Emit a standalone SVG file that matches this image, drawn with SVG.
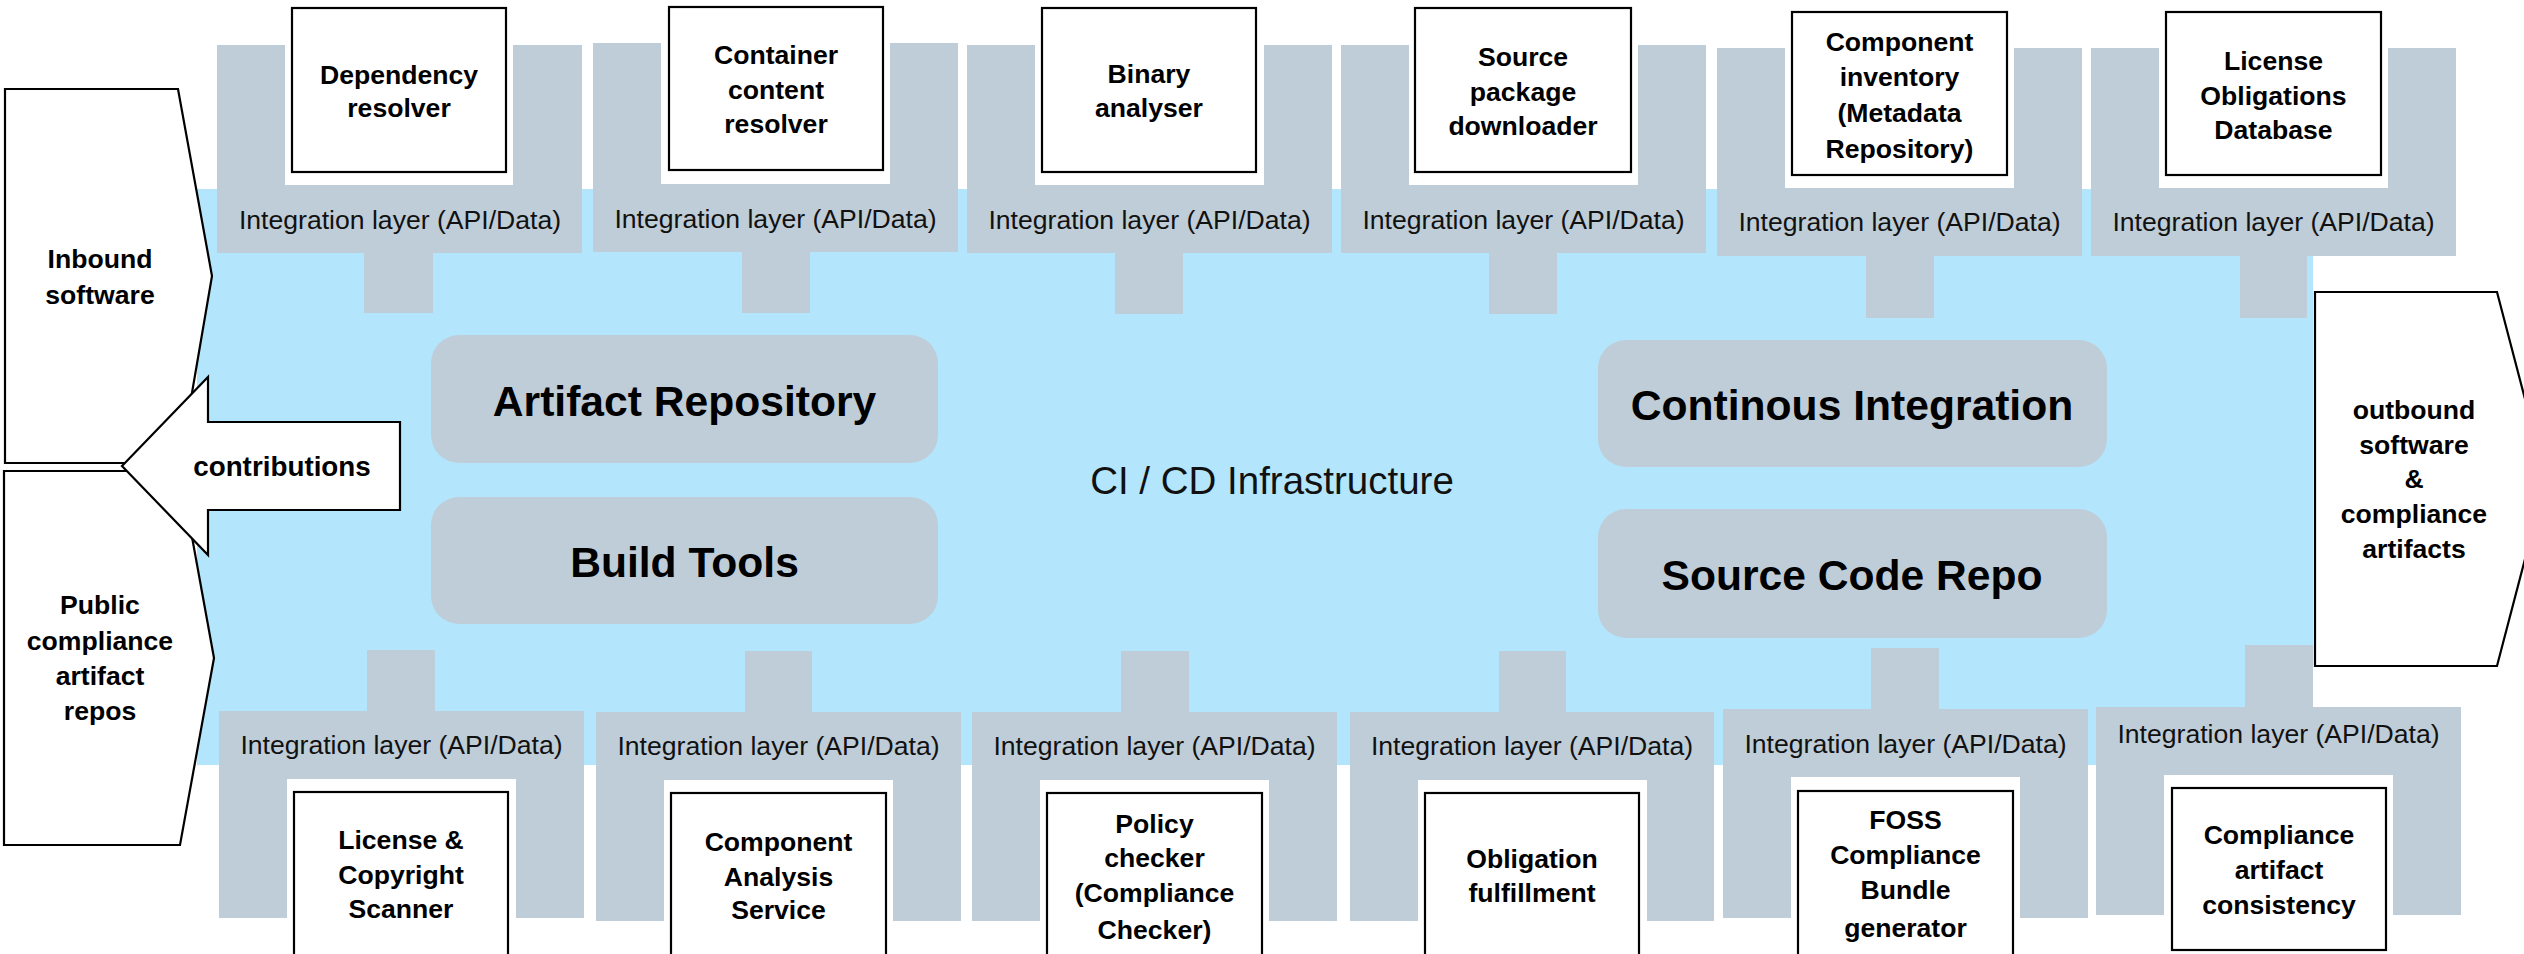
<svg xmlns="http://www.w3.org/2000/svg" width="2524" height="954" viewBox="0 0 2524 954">
<style>
.bg{fill:#B3E6FC}
.pan{fill:#BFCDD8}
.core{fill:#BFCDD8}
.box{fill:#fff;stroke:#000;stroke-width:2.2}
.sh{fill:#fff;stroke:#000;stroke-width:2.2;stroke-linejoin:miter}
.il{font-family:"Liberation Sans",Arial,sans-serif;font-size:26.6px;fill:#111;text-anchor:middle}
.lb{font-family:"Liberation Sans",Arial,sans-serif;font-size:26.6px;font-weight:bold;fill:#000;text-anchor:middle}
.big{font-family:"Liberation Sans",Arial,sans-serif;font-size:42.6px;font-weight:bold;fill:#000;text-anchor:middle}
.ci{font-family:"Liberation Sans",Arial,sans-serif;font-size:38.5px;fill:#111;text-anchor:middle}
</style>
<rect width="2524" height="954" fill="#fff"/>
<g id="infrastructure">
<rect class="bg" x="197" y="189" width="2116" height="576"/>
<text class="ci" x="1272" y="494">CI / CD Infrastructure</text>
</g>
<g id="connectors">
<rect class="pan" x="364" y="252" width="69" height="61"/>
<rect class="pan" x="742" y="251" width="68" height="62"/>
<rect class="pan" x="1115" y="252" width="68" height="62"/>
<rect class="pan" x="1489" y="252" width="68" height="62"/>
<rect class="pan" x="1866" y="255" width="68" height="63"/>
<rect class="pan" x="2240" y="255" width="67" height="63"/>
<rect class="pan" x="367" y="650" width="68" height="62"/>
<rect class="pan" x="745" y="651" width="67" height="62"/>
<rect class="pan" x="1121" y="651" width="68" height="62"/>
<rect class="pan" x="1499" y="651" width="67" height="62"/>
<rect class="pan" x="1871" y="648" width="68" height="62"/>
<rect class="pan" x="2245" y="645" width="68" height="63"/>
</g>
<g id="artifact-repository"><rect class="core" x="431" y="335" width="507" height="128" rx="28"/><text class="big" x="684.5" y="416">Artifact Repository</text></g>
<g id="build-tools"><rect class="core" x="431" y="497" width="507" height="127" rx="28"/><text class="big" x="684.5" y="577">Build Tools</text></g>
<g id="continuous-integration"><rect class="core" x="1598" y="340" width="509" height="127" rx="28"/><text class="big" x="1852" y="420">Continous Integration</text></g>
<g id="source-code-repo"><rect class="core" x="1598" y="509" width="509" height="129" rx="28"/><text class="big" x="1852" y="590">Source Code Repo</text></g>

<g id="top-1">
<path class="pan" d="M217,45H285V185H513V45H582V253H217Z"/>
<text class="il" x="400" y="229">Integration layer (API/Data)</text>
<rect class="box" x="292" y="8" width="214" height="164"/>
<text class="lb" x="399" y="84">Dependency</text><text class="lb" x="399" y="117">resolver</text>
</g>
<g id="top-2">
<path class="pan" d="M593,43H661V184H890V43H958V252H593Z"/>
<text class="il" x="775.5" y="228">Integration layer (API/Data)</text>
<rect class="box" x="669" y="7" width="214" height="163"/>
<text class="lb" x="776" y="64">Container</text><text class="lb" x="776" y="99">content</text><text class="lb" x="776" y="133">resolver</text>
</g>
<g id="top-3">
<path class="pan" d="M967,45H1035V185H1264V45H1332V253H967Z"/>
<text class="il" x="1149.5" y="229">Integration layer (API/Data)</text>
<rect class="box" x="1042" y="8" width="214" height="164"/>
<text class="lb" x="1149" y="83">Binary</text><text class="lb" x="1149" y="117">analyser</text>
</g>
<g id="top-4">
<path class="pan" d="M1341,45H1409V185H1638V45H1706V253H1341Z"/>
<text class="il" x="1523.5" y="229">Integration layer (API/Data)</text>
<rect class="box" x="1415" y="8" width="216" height="164"/>
<text class="lb" x="1523" y="66">Source</text><text class="lb" x="1523" y="101">package</text><text class="lb" x="1523" y="135">downloader</text>
</g>
<g id="top-5">
<path class="pan" d="M1717,48H1785V188H2014V48H2082V256H1717Z"/>
<text class="il" x="1899.5" y="231">Integration layer (API/Data)</text>
<rect class="box" x="1792" y="12" width="215" height="163"/>
<text class="lb" x="1899.5" y="51">Component</text><text class="lb" x="1899.5" y="86">inventory</text><text class="lb" x="1899.5" y="122">(Metadata</text><text class="lb" x="1899.5" y="158">Repository)</text>
</g>
<g id="top-6">
<path class="pan" d="M2091,48H2159V188H2388V48H2456V256H2091Z"/>
<text class="il" x="2273.5" y="231">Integration layer (API/Data)</text>
<rect class="box" x="2166" y="12" width="215" height="163"/>
<text class="lb" x="2273.5" y="70">License</text><text class="lb" x="2273.5" y="105">Obligations</text><text class="lb" x="2273.5" y="139">Database</text>
</g>

<g id="bottom-1">
<path class="pan" d="M219,711H584V918H516V779H287V918H219Z"/>
<text class="il" x="401.5" y="754">Integration layer (API/Data)</text>
<rect class="box" x="294" y="792" width="214" height="170"/>
<text class="lb" x="401" y="849">License &amp;</text><text class="lb" x="401" y="884">Copyright</text><text class="lb" x="401" y="918">Scanner</text>
</g>
<g id="bottom-2">
<path class="pan" d="M596,712H961V921H893V780H664V921H596Z"/>
<text class="il" x="778.5" y="755">Integration layer (API/Data)</text>
<rect class="box" x="671" y="793" width="215" height="170"/>
<text class="lb" x="778.5" y="851">Component</text><text class="lb" x="778.5" y="886">Analysis</text><text class="lb" x="778.5" y="919">Service</text>
</g>
<g id="bottom-3">
<path class="pan" d="M972,712H1337V921H1269V780H1040V921H972Z"/>
<text class="il" x="1154.5" y="755">Integration layer (API/Data)</text>
<rect class="box" x="1047" y="793" width="215" height="170"/>
<text class="lb" x="1154.5" y="833">Policy</text><text class="lb" x="1154.5" y="867">checker</text><text class="lb" x="1154.5" y="902">(Compliance</text><text class="lb" x="1154.5" y="939">Checker)</text>
</g>
<g id="bottom-4">
<path class="pan" d="M1350,712H1714V921H1647V780H1418V921H1350Z"/>
<text class="il" x="1532" y="755">Integration layer (API/Data)</text>
<rect class="box" x="1425" y="793" width="214" height="170"/>
<text class="lb" x="1532" y="868">Obligation</text><text class="lb" x="1532" y="902">fulfillment</text>
</g>
<g id="bottom-5">
<path class="pan" d="M1723,709H2088V918H2020V777H1791V918H1723Z"/>
<text class="il" x="1905.5" y="753">Integration layer (API/Data)</text>
<rect class="box" x="1798" y="791" width="215" height="170"/>
<text class="lb" x="1905.5" y="829">FOSS</text><text class="lb" x="1905.5" y="864">Compliance</text><text class="lb" x="1905.5" y="899">Bundle</text><text class="lb" x="1905.5" y="937">generator</text>
</g>
<g id="bottom-6">
<path class="pan" d="M2096,707H2461V915H2393V775H2164V915H2096Z"/>
<text class="il" x="2278.5" y="743">Integration layer (API/Data)</text>
<rect class="box" x="2172" y="788" width="214" height="162"/>
<text class="lb" x="2279" y="844">Compliance</text><text class="lb" x="2279" y="879">artifact</text><text class="lb" x="2279" y="914">consistency</text>
</g>

<g id="inbound-software">
<polygon class="sh" points="5,89 178,89 212,276 180,463 5,463"/>
<text class="lb" x="100" y="268">Inbound</text><text class="lb" x="100" y="304">software</text>
</g>
<g id="public-repos">
<polygon class="sh" points="4,471 180,471 214,658 180,845 4,845"/>
<text class="lb" x="100" y="614">Public</text><text class="lb" x="100" y="650">compliance</text><text class="lb" x="100" y="685">artifact</text><text class="lb" x="100" y="720">repos</text>
</g>
<g id="contributions">
<polygon class="sh" points="122,466 208,377 208,422 400,422 400,510 208,510 208,555"/>
<text class="lb" x="282" y="476" style="font-size:27.8px">contributions</text>
</g>
<g id="outbound">
<polygon class="sh" points="2315,292 2497,292 2546,479 2497,666 2315,666"/>
<text class="lb" x="2414" y="419">outbound</text><text class="lb" x="2414" y="454">software</text><text class="lb" x="2414" y="488">&amp;</text><text class="lb" x="2414" y="523">compliance</text><text class="lb" x="2414" y="558">artifacts</text>
</g>
</svg>
